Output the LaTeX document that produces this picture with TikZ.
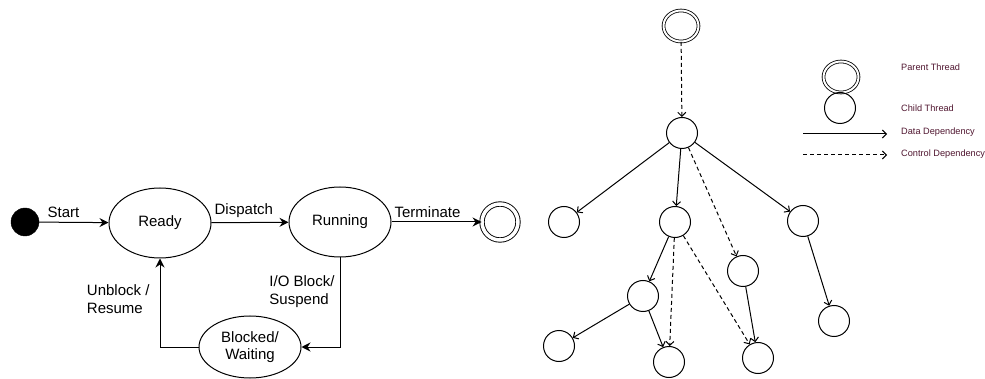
\documentclass[tikz,border=0pt]{standalone}
\usepackage{fontspec}
\setmainfont{Liberation Sans}
\usetikzlibrary{positioning,shapes.geometric,arrows.meta}
\definecolor{legendtext}{RGB}{80,22,48}
\tikzset{
  state/.style={draw,ellipse,line width=1pt,minimum width=102pt,minimum height=70pt,inner sep=0pt,font=\fontsize{15}{17.5}\selectfont,align=center},
  startdot/.style={draw,circle,fill=black,minimum size=28pt,inner sep=0pt},
  finalst/.style={draw,circle,line width=0.9pt,double,double distance=3.5pt,minimum size=36pt,inner sep=0pt},
  flow/.style={line width=1pt,-{Stealth[length=9pt,width=9pt,inset=3pt]}},
  lbl/.style={font=\fontsize{15}{17.5}\selectfont,inner sep=4pt},
  thread/.style={draw,circle,line width=1pt,minimum size=31pt,inner sep=0pt},
  parent/.style={draw,ellipse,line width=0.8pt,double,double distance=2pt,minimum width=35pt,minimum height=31pt,inner sep=0pt},
  dep/.style={line width=1pt,-{Straight Barb[length=4pt,width=8pt]}},
  ctrl/.style={dep,dash pattern=on 4pt off 3pt},
  legend/.style={anchor=west,text=legendtext,font=\fontsize{9.2}{11}\selectfont,inner sep=0pt}
}
\begin{document}
\begin{tikzpicture}[x=1pt,y=-1pt]
\useasboundingbox (0,0) rectangle (985,379);
% process states
\node[startdot] (start) at (25,222) {};
\node[state] (ready) at (160,223) {Ready};
\node[state] (running) at (340,222) {Running};
\node[state,minimum height=62pt] (blocked) at (250,347) {Blocked/\\Waiting};
\node[finalst] (final) at (500,222) {};
\draw[flow] (start) -- node[lbl,above,pos=0.35] {Start} (ready);
\draw[flow] (ready) -- node[lbl,above,pos=0.42] {Dispatch} (running);
\draw[flow] (running) -- node[lbl,above,pos=0.4] {Terminate} (final);
\draw[flow] (running.south) |- node[lbl,pos=0.19,left,align=left,inner sep=5pt] {I/O Block/\\Suspend} (blocked.east);
\draw[flow] (blocked.west) -| node[lbl,pos=0.77,left,align=left,inner sep=10pt] {Unblock /\\Resume} (ready.south);
% thread tree
\node[parent] (p) at (681,26) {};
\node[thread] (root) at (682,133) {};
\node[thread] (a) at (564,222) {};
\node[thread] (b) at (675,222) {};
\node[thread] (c) at (803,221) {};
\node[thread] (d) at (743,271) {};
\node[thread] (e) at (643,296) {};
\node[thread] (f) at (834,321) {};
\node[thread] (g) at (559,346) {};
\node[thread] (h) at (669,362) {};
\node[thread] (i) at (758,358) {};
\draw[ctrl] (p) -- (root);
\draw[dep] (root) -- (a);
\draw[dep] (root) -- (b);
\draw[ctrl] (root) -- (d);
\draw[dep] (root) -- (c);
\draw[dep] (b) -- (e);
\draw[ctrl] (b) -- (h);
\draw[ctrl] (b) -- (i);
\draw[dep] (e) -- (g);
\draw[dep] (e) -- (h);
\draw[dep] (d) -- (i);
\draw[dep] (c) -- (f);
% legend
\node[parent] (lgparent) at (841,77) {};
\node[thread] (lgchild) at (840,108) {};
\coordinate (lgdata1) at (803,134);
\coordinate (lgdata2) at (887,134);
\coordinate (lgctrl1) at (803,155);
\coordinate (lgctrl2) at (887,155);
\draw[dep] (lgdata1) -- (lgdata2);
\draw[ctrl] (lgctrl1) -- (lgctrl2);
\node[legend] (lgptext) at (901,67) {Parent Thread};
\node[legend] (lgctext) at (901,108) {Child Thread};
\node[legend] (lgdtext) at (901,132) {Data Dependency};
\node[legend] (lgktext) at (901,154) {Control Dependency};
\end{tikzpicture}
\end{document}
